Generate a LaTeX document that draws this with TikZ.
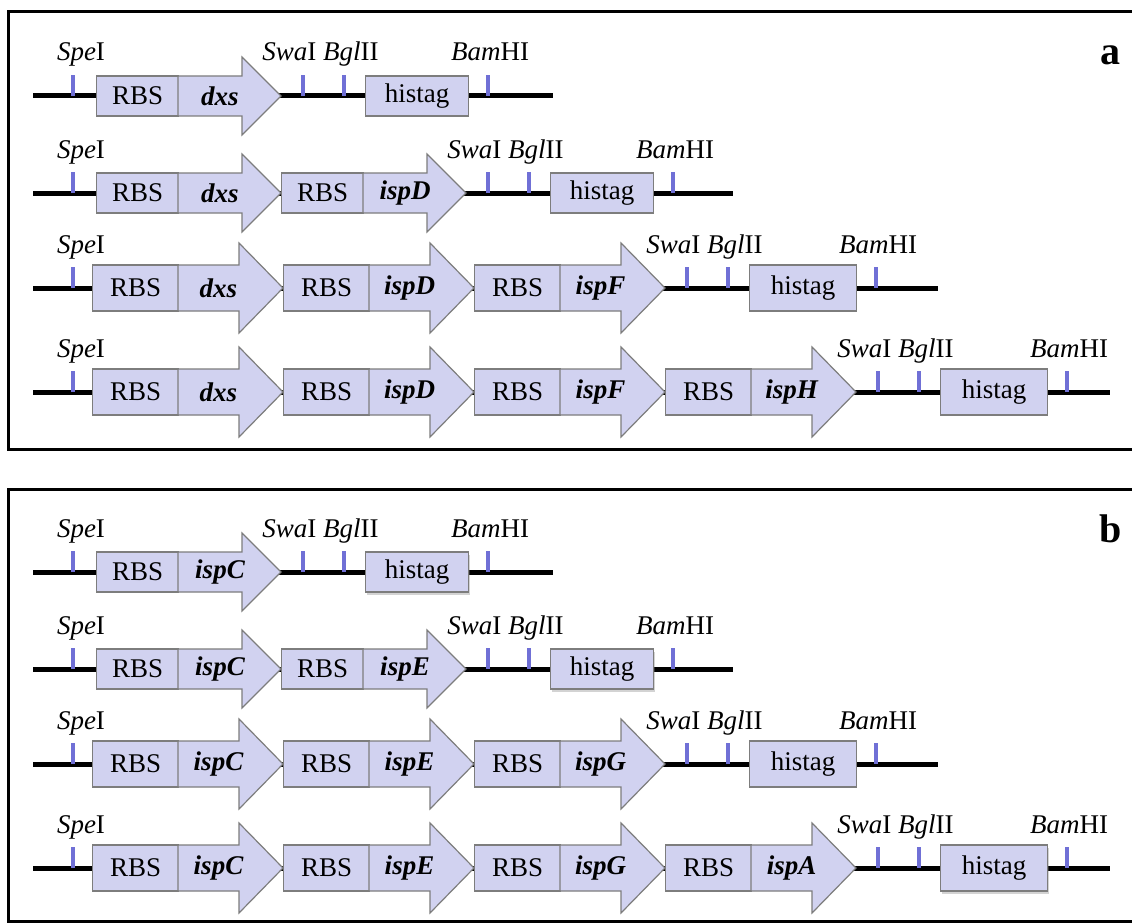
\documentclass[tikz,border=0pt]{standalone}
\usepackage{fontspec}
\setmainfont{Liberation Serif}
\usepackage{tikz}
\usetikzlibrary{calc, shadows}

\definecolor{partfill}{RGB}{209,210,240}
\definecolor{partline}{RGB}{125,125,125}
\definecolor{sitecol}{RGB}{112,112,214}

% sizes for the short (1-2 genes) and long (3-4 genes) constructs
\newcommand{\smallparts}{\def\boxh{20}\def\headh{39}\def\rbsw{82}\def\genew{64}\def\headl{39}\def\cstep{185}\def\cstart{96}\def\hisw{103}}
\newcommand{\largeparts}{\def\boxh{23}\def\headh{45}\def\rbsw{86}\def\genew{61}\def\headl{44}\def\cstep{191}\def\cstart{92}\def\hisw{107}}

% one construct: backbone, cut sites, RBS + gene cassettes, histag
% #1 histag extras, #2 name, #3 backbone y, #4 genes, #5 backbone end
\newcommand{\construct}[5][]{%
  \foreach \g [count=\i] in {#4} {\xdef\ngenes{\i}}
  \pgfmathsetmacro{\tipx}{\cstart+(\ngenes-1)*\cstep+\rbsw+\genew+\headl}
  \pgfmathsetmacro{\hisx}{\tipx+84}
  % backbone
  \coordinate (#2-start) at (33,#3);
  \coordinate (#2-end) at (#5,#3);
  \draw[backbone] (#2-start) -- (#2-end);
  % cut sites
  \coordinate (#2-spe) at (73,#3);
  \coordinate (#2-swa) at (\tipx+22,#3);
  \coordinate (#2-bgl) at (\tipx+63,#3);
  \coordinate (#2-bam) at (\hisx+\hisw+20,#3);
  \foreach \s in {spe,swa,bgl,bam}{
    \coordinate (#2-\s-top) at ($(#2-\s)+(0,-21)$);
    \draw[site] (#2-\s) -- (#2-\s-top);
  }
  \node[sitelabel] (#2-spelab) at ($(#2-spe)+(8,-35)$) {\textit{Spe}I};
  \node[sitelabel] (#2-swalab) at ($(#2-swa)!0.5!(#2-bgl)+(-3,-35)$) {\textit{Swa}I \textit{Bgl}II};
  \node[sitelabel] (#2-bamlab) at ($(#2-bam)+(2,-35)$) {\textit{Bam}HI};
  % RBS boxes and gene arrows
  \foreach \g [count=\i] in {#4}{
    \pgfmathsetmacro{\xr}{\cstart+(\i-1)*\cstep}
    \pgfmathsetmacro{\xs}{\xr+\rbsw}
    \node[part, minimum width=\rbsw, minimum height=2*\boxh, anchor=west] (#2-rbs\i) at (\xr,#3) {RBS};
    \draw[part] (\xs,#3-\boxh) -- ++(\genew,0) -- ++(0,\boxh-\headh)
      -- (\xs+\genew+\headl,#3) -- (\xs+\genew,#3+\headh) -- ++(0,\boxh-\headh)
      -- (\xs,#3+\boxh) -- cycle;
    \node[genename] (#2-gene\i) at (\xs+\genew/2+10,#3) {\g};
  }
  \node[part, minimum width=\hisw, minimum height=2*\boxh, anchor=west, #1] (#2-his) at (\hisx,#3) {histag};
}

\begin{document}
\begin{tikzpicture}[x=1pt, y=-1pt,
    backbone/.style={line width=5pt},
    site/.style={draw=sitecol, line width=4pt},
    part/.style={draw=partline, fill=partfill, line width=1.2pt, inner sep=0pt, font=\fontsize{27}{31}\selectfont},
    genename/.style={inner sep=0pt, font=\fontsize{27}{31}\selectfont\bfseries\itshape},
    sitelabel/.style={anchor=base, inner sep=0pt, font=\fontsize{27}{31}\selectfont},
    frame/.style={line width=3pt},
    panellabel/.style={anchor=base, inner sep=0pt, font=\fontsize{40}{44}\selectfont\bfseries},
    hisshadow/.style={drop shadow={shadow xshift=1.5pt, shadow yshift=-2.5pt, opacity=0.35}}]
    \useasboundingbox (0,0) rectangle (1132,923);

    % panel frames (open on the right)
    \coordinate (a-tr) at (1136,12);
    \coordinate (a-tl) at (8,12);
    \coordinate (a-bl) at (8,449);
    \coordinate (a-br) at (1136,449);
    \draw[frame] (a-tr) -- (a-tl) -- (a-bl) -- (a-br);
    \coordinate (b-tr) at (1136,489);
    \coordinate (b-tl) at (8,489);
    \coordinate (b-bl) at (8,921);
    \coordinate (b-br) at (1136,921);
    \draw[frame] (b-tr) -- (b-tl) -- (b-bl) -- (b-br);

    \node[panellabel] (lab-a) at (1110,65) {a};
    \node[panellabel] (lab-b) at (1111,542) {b};

    % panel a
    \smallparts
    \construct{a1}{96}{dxs}{553}
    \construct{a2}{193}{dxs,ispD}{733}
    \largeparts
    \construct{a3}{288}{dxs,ispD,ispF}{938}
    \construct{a4}{392}{dxs,ispD,ispF,ispH}{1110}

    % panel b
    \smallparts
    \construct[hisshadow]{b1}{572}{ispC}{553}
    \construct[hisshadow]{b2}{669}{ispC,ispE}{733}
    \largeparts
    \construct{b3}{764}{ispC,ispE,ispG}{938}
    \construct[hisshadow]{b4}{868}{ispC,ispE,ispG,ispA}{1110}
\end{tikzpicture}
\end{document}
